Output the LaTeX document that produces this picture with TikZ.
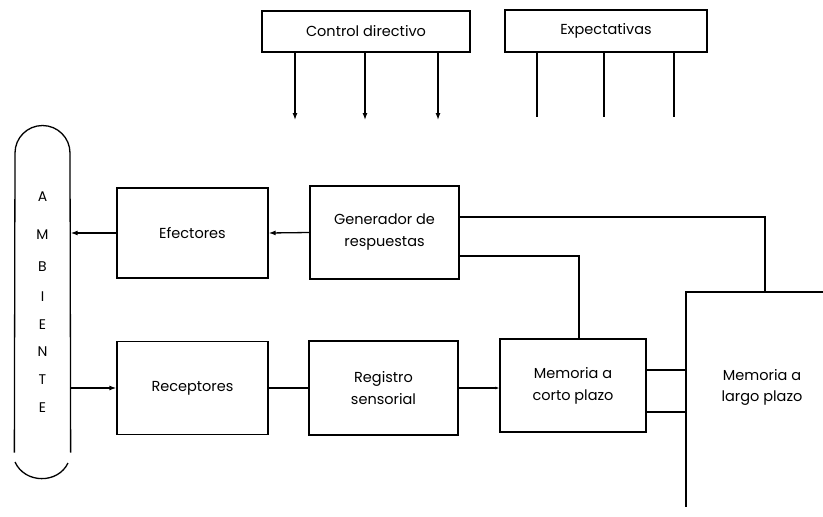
\documentclass[tikz,border=0pt]{standalone}
\usepackage{fontspec}
\setmainfont{Poppins}
\usetikzlibrary{arrows.meta}
\begin{document}
\begin{tikzpicture}[x=1pt,y=-1pt, line width=1.3pt,
  box/.style={draw, line width=1.3pt, inner sep=0pt, align=center,
    font=\fontsize{14.5}{22}\selectfont},
  lbl/.style={inner sep=0pt, align=center, font=\fontsize{14.5}{21}\selectfont},
  letter/.style={inner sep=0pt, font=\fontsize{14}{16}\selectfont},
  arr/.style={-{Latex[length=7pt,width=5pt]}}]
\useasboundingbox (0,0) rectangle (823,517);

% boxes
\node[box, minimum width=208pt, minimum height=41pt] (ctrl) at (366,31.5) {Control directivo};
\node[box, minimum width=202pt, minimum height=42pt] (expe) at (606,31) {Expectativas};
\node[box, minimum width=151pt, minimum height=90pt] (eff) at (192.5,233) {Efectores};
\node[box, minimum width=151pt, minimum height=93pt] (rec) at (192.5,388) {Receptores};
\node[box, minimum width=149pt, minimum height=93pt] (gen) at (384.5,232.5) {Generador de\\respuestas};
\node[box, minimum width=149pt, minimum height=94pt] (reg) at (383.5,388) {Registro\\sensorial};
\node[box, minimum width=146pt, minimum height=93pt] (mcp) at (573,385.5) {Memoria a\\corto plazo};

% long-term memory (open box)
\coordinate (ltm) at (686,292);
\coordinate (ltmr) at (823,292);
\coordinate (ltmb) at (686,507);
\draw (ltmr) -- (ltm) -- (ltmb);
\node[lbl] (ltmtxt) at (762,387) {Memoria a\\largo plazo};

% ambiente
\node[minimum width=55pt, minimum height=299pt, inner sep=0pt] (amb) at (42.5,302.5) {};
\draw (amb.south west) -- (15,153) arc (180:360:27.5) -- (amb.south east);
\draw (15,462) .. controls (25,484) and (58,484) .. (68,463);
\foreach \l/\y [count=\i] in {A/197,M/235,B/267,I/297,E/325,N/352,T/380,E/408}
  \node[letter] (amb\i) at (42.5,\y) {\l};

% control directivo arrows
\coordinate (ca1) at (295,120);
\coordinate (ca2) at (365,120);
\coordinate (ca3) at (438,120);
\foreach \c in {ca1,ca2,ca3}
  \draw[arr] (ctrl.south -| \c) -- (\c);

% expectativas lines
\coordinate (ea1) at (537,117);
\coordinate (ea2) at (604,117);
\coordinate (ea3) at (674,117);
\foreach \c in {ea1,ea2,ea3}
  \draw (expe.south -| \c) -- (\c);

% connectors
\draw[arr] (gen.west) -- (eff.east);
\draw[arr] (eff.west) -- (eff.west -| amb.east);
\draw[arr] (amb.east |- rec.west) -- (rec.west);
\draw (rec.east) -- (rec.east -| reg.west);
\draw[-{Latex[length=4pt,width=3pt]}] (reg.east) -- (reg.east -| mcp.west);

\coordinate (ltmtop) at (765,292);
\draw ([yshift=15.5pt]gen.east) -| (ltmtop);
\coordinate (mcptop) at (579,339);
\draw ([yshift=-23.5pt]gen.east) -| (mcptop);

\coordinate (m1) at (646,370);
\coordinate (m2) at (646,412);
\draw (m1) -- (m1 -| ltm);
\draw (m2) -- (m2 -| ltm);
\end{tikzpicture}
\end{document}
